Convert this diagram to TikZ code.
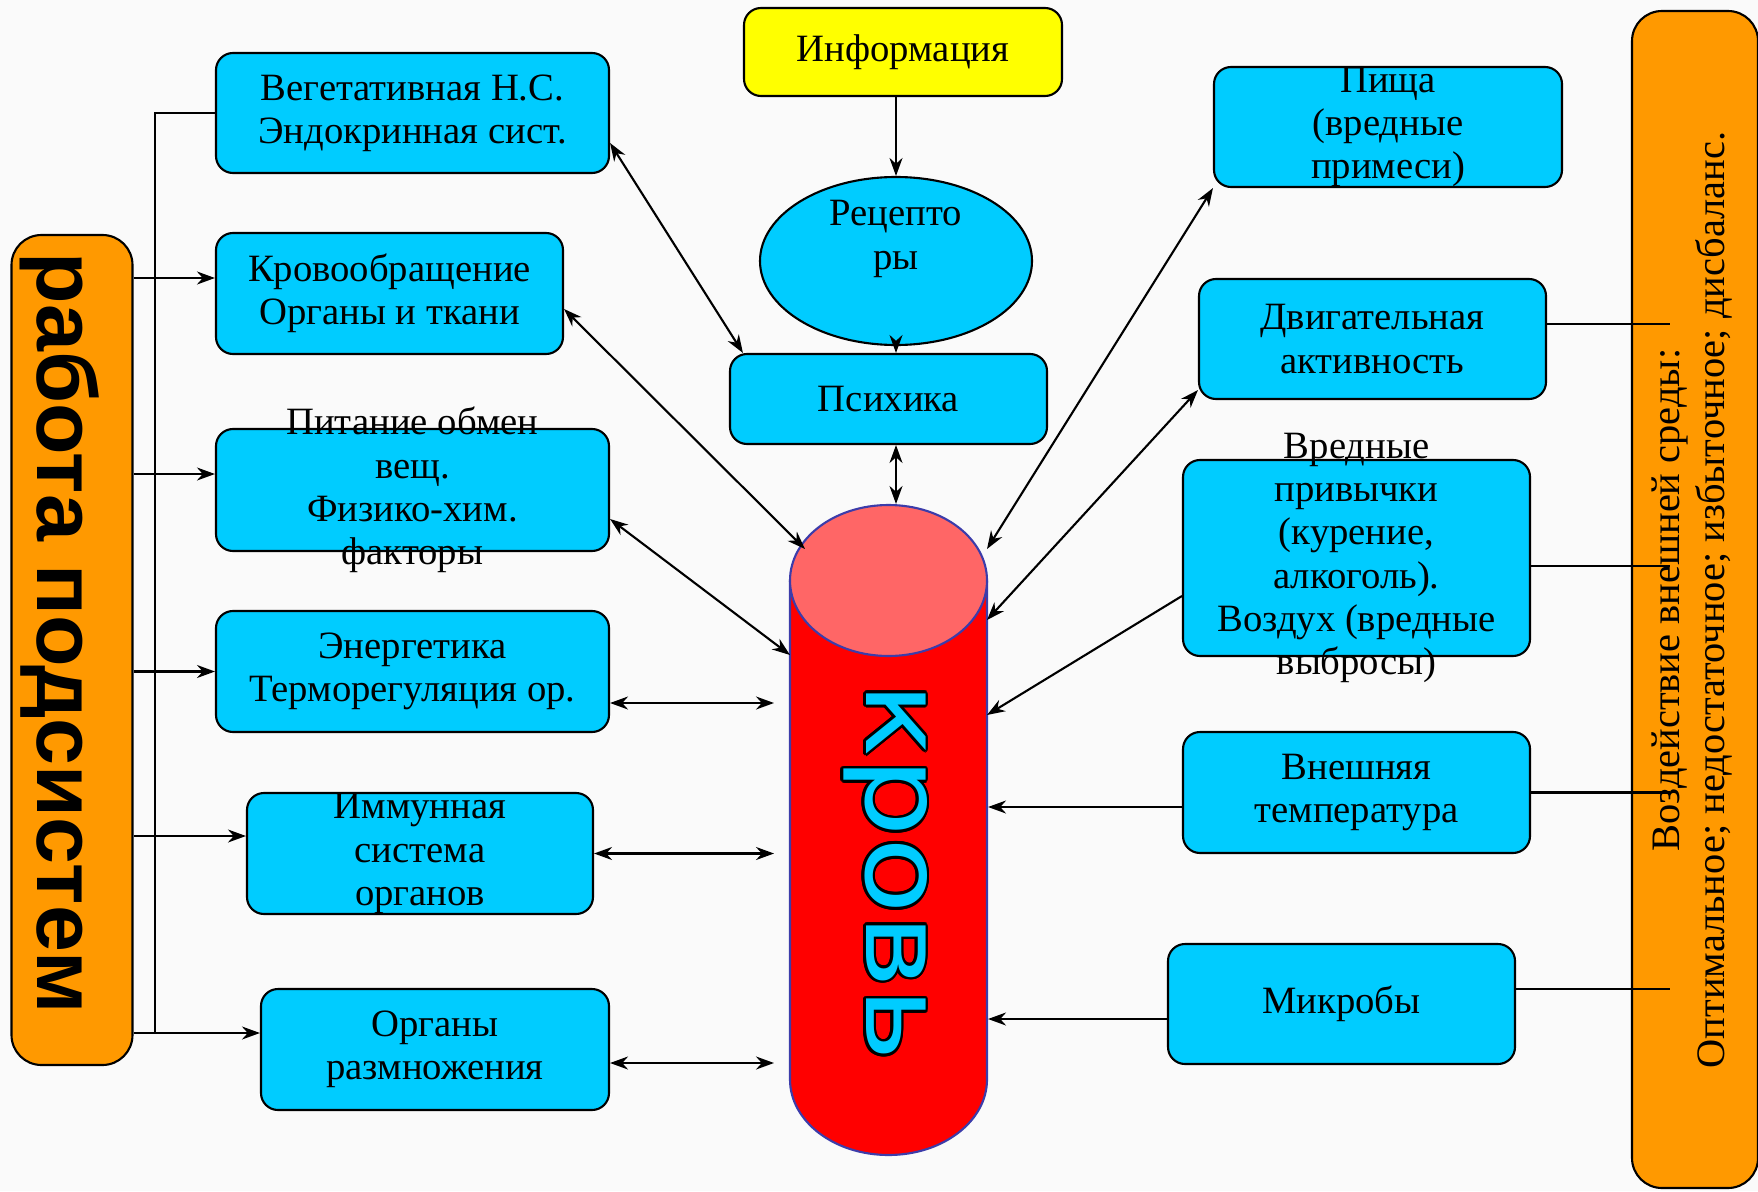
\documentclass[tikz,border=0pt]{standalone}
\usepackage{fontspec}
\setmainfont{Liberation Serif}
\newfontfamily\headfont{Liberation Sans}
\newfontfamily\bloodfont{DejaVu Sans}
\usepackage{contour}
\usetikzlibrary{arrows.meta,shapes.geometric}
\definecolor{boxblue}{RGB}{0,204,255}
\definecolor{sideorange}{RGB}{255,153,0}
\definecolor{infoyellow}{RGB}{255,255,0}
\definecolor{bloodred}{RGB}{255,0,0}
\definecolor{bloodtop}{RGB}{255,102,102}
\definecolor{rim}{RGB}{60,60,170}
\newcommand\boxfont{\fontsize{11}{12.3}\selectfont}

\begin{document}
\begin{tikzpicture}[>={Stealth[length=1.8mm,width=1.3mm]}, line width=0.6pt,
  blk/.style={draw, fill=boxblue, rounded corners=1.7mm, align=center, inner sep=0pt, font=\boxfont},
  txt/.style={align=center, font=\boxfont},
  side/.style={draw, fill=sideorange, rounded corners=3mm, inner sep=0pt}]

\useasboundingbox[fill=black!2] (0,0) rectangle (17.58,11.91);

\node[side, minimum width=1.21cm, minimum height=8.30cm] (links) at (0.72,5.41) {};
\node[rotate=-90, font=\headfont\bfseries\fontsize{24}{24}\selectfont] (ltxt) at (0.60,5.58) {работа подсистем};

\node[side, minimum width=1.26cm, minimum height=11.77cm] (env) at (16.95,5.915) {};
\node[rotate=90, align=center, font=\fontsize{11.5}{13}\selectfont] (etxt) at (16.92,5.91) {Воздействие внешней среды:\\Оптимальное; недостаточное; избыточное; дисбаланс.};

\node[blk, minimum width=3.93cm, minimum height=1.20cm] (veg) at (4.125,10.78) {Вегетативная Н.С.\\Эндокринная сист.};
\node[blk, minimum width=3.47cm, minimum height=1.21cm] (krv) at (3.895,8.975) {Кровообращение\\Органы и ткани};
\node[blk, minimum width=3.93cm, minimum height=1.22cm, label={[txt]center:Питание обмен\\вещ.\\Физико-хим.\\факторы}] (pit) at (4.125,7.01) {};
\node[blk, minimum width=3.93cm, minimum height=1.21cm] (ene) at (4.125,5.195) {Энергетика\\Терморегуляция ор.};
\node[blk, minimum width=3.46cm, minimum height=1.21cm, label={[txt]center:Иммунная\\система\\органов}] (imm) at (4.20,3.375) {};
\node[blk, minimum width=3.48cm, minimum height=1.21cm] (org) at (4.35,1.415) {Органы\\размножения};

\node[blk, fill=infoyellow, minimum width=3.18cm, minimum height=0.88cm] (info) at (9.03,11.39) {Информация};
\node[draw, ellipse, fill=boxblue, inner sep=0pt, minimum width=2.72cm, minimum height=1.68cm, label={[txt, yshift=2.2mm]center:Рецепто\\ры}] (rec) at (8.96,9.30) {};
\node[blk, minimum width=3.17cm, minimum height=0.90cm] (psy) at (8.885,7.92) {Психика};

\fill[bloodred] (7.90,6.105) -- (7.90,1.115) arc[start angle=180, end angle=360, x radius=0.985, y radius=0.755] -- (9.87,6.105) -- cycle;
\draw[rim] (7.90,6.105) -- (7.90,1.115) arc[start angle=180, end angle=360, x radius=0.985, y radius=0.755] -- (9.87,6.105);
\draw[rim, fill=bloodtop] (8.885,6.105) ellipse [x radius=0.985, y radius=0.755];
\node[minimum width=1.97cm, minimum height=6.5cm, inner sep=0pt] (blood) at (8.885,3.61) {};
\node[rotate=-90, color=boxblue, font=\bloodfont\fontsize{31}{31}\selectfont] (btxt) at (8.84,3.19) {\contourlength{0.7pt}\scalebox{1.15}[1]{\contour{black}{кровь}}};

\node[blk, minimum width=3.48cm, minimum height=1.20cm, label={[txt]center:Пища\\(вредные\\примеси)}] (pis) at (13.88,10.64) {};
\node[blk, minimum width=3.47cm, minimum height=1.20cm] (dv) at (13.725,8.52) {Двигательная\\активность};
\node[blk, minimum width=3.47cm, minimum height=1.96cm, label={[txt]center:{Вредные\\привычки\\(курение,\\алкоголь).\\Воздух (вредные\\выбросы)}}] (vr) at (13.565,6.33) {};
\node[blk, minimum width=3.47cm, minimum height=1.21cm] (vn) at (13.565,3.985) {Внешняя\\температура};
\node[blk, minimum width=3.47cm, minimum height=1.20cm] (mk) at (13.415,1.87) {Микробы};

\coordinate (bus) at (1.55,1.58);
\coordinate (bl) at (7.74,0);
\coordinate (ex) at (16.70,0);
\coordinate (bk) at (8.05,6.42);
\coordinate (bp) at (7.90,5.36);
\coordinate (bf) at (9.87,6.42);
\coordinate (bd) at (9.87,5.71);
\coordinate (bv) at (9.87,4.76);

\draw (veg.west) -| (bus);
\draw[->, transform canvas={yshift=1.55mm}] (links.east |- krv.west) -- (krv.west);
\draw[->, transform canvas={yshift=1.6mm}] (links.east |- pit.west) -- (pit.west);
\draw[->] (links.east |- ene.west) -- (ene.west);
\draw[->, transform canvas={yshift=1.75mm}] (links.east |- imm.west) -- (imm.west);
\draw[->, transform canvas={yshift=1.65mm}] (links.east |- org.west) -- (org.west);

\draw[->] (rec.north |- info.south) -- (rec.north);
\draw[->] (rec.south) -- (rec.south |- psy.north);
\draw[<->] (rec.south |- psy.south) -- (rec.south |- blood.north);

\draw[<->] ([yshift=-3mm]veg.east) -- ([xshift=1.4mm]psy.north west);
\draw[<->] ([yshift=-1.55mm]krv.east) -- (bk);
\draw[<->] ([yshift=-2.9mm]pit.east) -- (bp);
\draw[<->, transform canvas={yshift=-3.15mm}] (ene.east) -- (ene.east -| bl);
\draw[<->] (imm.east) -- (imm.east -| bl);
\draw[<->, transform canvas={yshift=-1.35mm}] (org.east) -- (org.east -| bl);

\draw[<->] (pis.south west) -- (bf);
\draw[<->] ([yshift=1mm]dv.south west) -- (bd);
\draw[->] ([yshift=-3.8mm]vr.west) -- (bv);
\draw[->, transform canvas={yshift=-1.45mm}] (vn.west) -- (vn.west -| blood.east);
\draw[->, transform canvas={yshift=-1.5mm}] (mk.west) -- (mk.west -| blood.east);

\draw[transform canvas={yshift=1.5mm}] (dv.east) -- (dv.east -| ex);
\draw[transform canvas={yshift=-0.8mm}] (vr.east) -- (vr.east -| ex);
\draw (vn.east) -- (vn.east -| ex);
\draw[transform canvas={yshift=1.5mm}] (mk.east) -- (mk.east -| ex);

\end{tikzpicture}
\end{document}
